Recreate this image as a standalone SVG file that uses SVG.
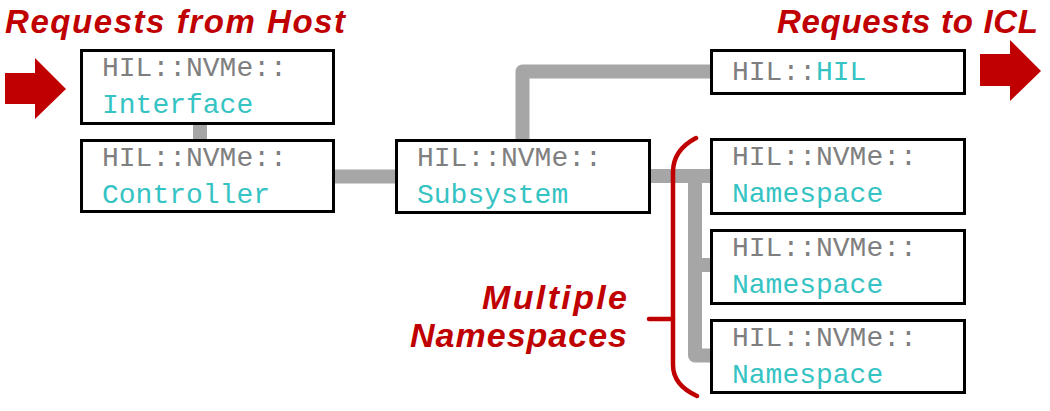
<svg xmlns="http://www.w3.org/2000/svg" width="1050" height="411" viewBox="0 0 1050 411">
<style>
.box{fill:#fff;stroke:#000;stroke-width:3}
.mono{font-family:"Liberation Mono","DejaVu Sans Mono",monospace;font-size:28px}
.g{fill:#7f7f7f}
.c{fill:#35c3c3}
.title{font-family:"Liberation Sans",Arial,sans-serif;font-weight:bold;font-style:italic;fill:#c00000}
.conn{fill:none;stroke:#a6a6a6;stroke-width:14;stroke-linejoin:round}
.red{fill:#c00000}
.brk{fill:none;stroke:#c00000;stroke-width:4.5;stroke-linecap:round}
</style>
<rect width="1050" height="411" fill="#fff"/>
<g id="connectors">
<path class="conn" d="M200,124 V140"/>
<path class="conn" d="M334,176.5 H396"/>
<path class="conn" d="M522.5,140 V71.5 H711"/>
<path class="conn" d="M650,176 H711"/>
<path class="conn" d="M695,176 V355.5 H711"/>
<path class="conn" d="M695,265 H711"/>
</g>
<g id="arrow-in"><polygon class="red" points="5,73 35,73 35,58 66,89 35,119 35,104 5,104"/></g>
<g id="arrow-out"><polygon class="red" points="980,54 1010,54 1010,40 1041,71 1010,101 1010,86 980,86"/></g>
<g id="title-host"><text class="title" x="5" y="33" font-size="33" textLength="340">Requests from Host</text></g>
<g id="title-icl"><text class="title" x="777" y="33" font-size="33" textLength="261">Requests to ICL</text></g>
<g id="interface">
<rect class="box" x="81.5" y="50.5" width="252" height="73"/>
<text class="mono" x="102" y="76"><tspan class="g">HIL::NVMe::</tspan></text>
<text class="mono c" x="102" y="113">Interface</text>
</g>
<g id="controller">
<rect class="box" x="81.5" y="140.5" width="252" height="71"/>
<text class="mono g" x="102" y="166">HIL::NVMe::</text>
<text class="mono c" x="102" y="203">Controller</text>
</g>
<g id="subsystem">
<rect class="box" x="396.5" y="140.5" width="253" height="72"/>
<text class="mono g" x="417" y="166">HIL::NVMe::</text>
<text class="mono c" x="417" y="203">Subsystem</text>
</g>
<g id="hil">
<rect class="box" x="711.5" y="50.5" width="253" height="43"/>
<text class="mono" x="732" y="80"><tspan class="g">HIL::</tspan><tspan class="c">HIL</tspan></text>
</g>
<g id="namespace1">
<rect class="box" x="711.5" y="139.5" width="253" height="74"/>
<text class="mono g" x="732" y="165">HIL::NVMe::</text>
<text class="mono c" x="732" y="202">Namespace</text>
</g>
<g id="namespace2">
<rect class="box" x="711.5" y="230.5" width="253" height="73"/>
<text class="mono g" x="732" y="256">HIL::NVMe::</text>
<text class="mono c" x="732" y="293">Namespace</text>
</g>
<g id="namespace3">
<rect class="box" x="711.5" y="320.5" width="253" height="72"/>
<text class="mono g" x="732" y="346">HIL::NVMe::</text>
<text class="mono c" x="732" y="383">Namespace</text>
</g>
<g id="bracket">
<path class="brk" d="M696,138 Q673,150 673,172 V365 Q673,385 697,396"/>
<path class="brk" d="M649,319 H673"/>
</g>
<g id="label-multiple">
<text class="title" x="627" y="309" font-size="34" text-anchor="end" textLength="145">Multiple</text>
<text class="title" x="627" y="347" font-size="34" text-anchor="end" textLength="217">Namespaces</text>
</g>
</svg>
